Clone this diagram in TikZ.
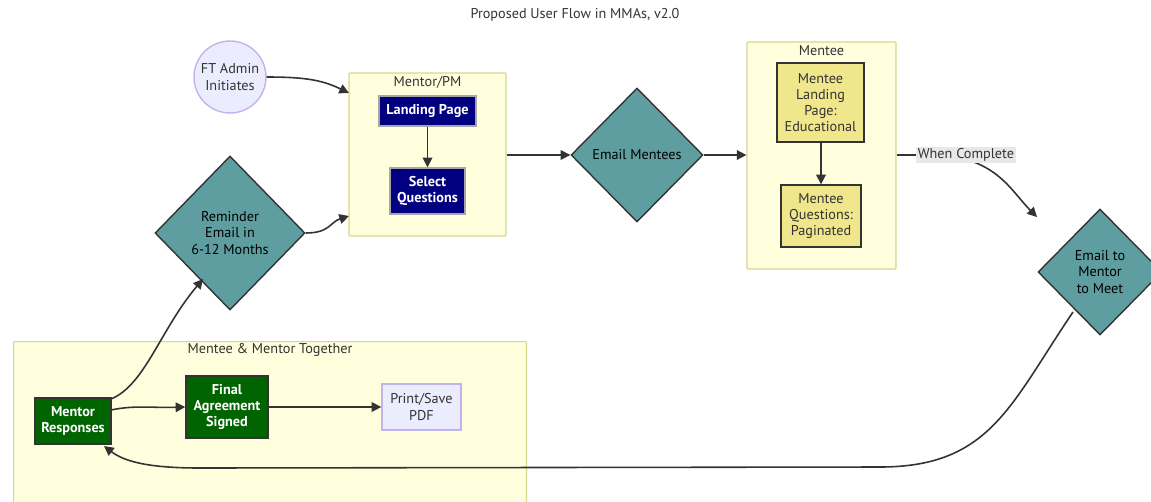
\documentclass[tikz,border=0pt]{standalone}
\usepackage{fontspec}
\setmainfont{PT Sans}
\usetikzlibrary{shapes.geometric,arrows.meta}
\definecolor{clfill}{HTML}{FFFFDE}
\definecolor{cldraw}{HTML}{D6D68C}
\definecolor{ink}{HTML}{333333}
\definecolor{navybox}{HTML}{000080}
\definecolor{khakibox}{HTML}{F0E68C}
\definecolor{greenbox}{HTML}{006400}
\definecolor{tealbox}{HTML}{5F9EA0}
\definecolor{lavfill}{HTML}{ECECFF}
\definecolor{lavdraw}{HTML}{C3B2EE}
\definecolor{lblfill}{HTML}{E8E8E8}
\newcommand{\diagfont}{\fontsize{8.1}{9.2}\selectfont}
\tikzset{
  txt/.style={font=\diagfont, text=ink, align=center},
  cluster/.style={draw=cldraw, fill=clfill, line width=0.7pt, rounded corners=0.5pt},
  ctitle/.style={txt},
  navynode/.style={txt, draw=gray!70, fill=navybox, text=white, font=\diagfont\bfseries, line width=0.8pt, inner sep=0pt},
  khakinode/.style={txt, draw=ink, fill=khakibox, line width=0.8pt, inner sep=0pt},
  greennode/.style={txt, draw=ink, fill=greenbox, text=white, font=\diagfont\bfseries, line width=0.8pt, inner sep=0pt},
  lavnode/.style={txt, draw=lavdraw, fill=lavfill, line width=0.8pt, inner sep=0pt},
  decision/.style={txt, diamond, draw=ink, fill=tealbox, text=black, line width=0.8pt, inner sep=0pt},
  arr/.style={draw=ink, line width=0.9pt, -{Triangle[length=5.5pt,width=5.5pt]}},
  link/.style={draw=ink, line width=0.9pt},
}
\begin{document}
\begin{tikzpicture}[x=0.02cm, y=-0.02cm]
\useasboundingbox (0,0) rectangle (1151,501);
\begin{scope}
\clip (0,0) rectangle (1151,501);

% title
\node[txt] (title) at (575,15) {Proposed User Flow in MMAs, v2.0};

% group frames
\node[cluster, minimum width=3.14cm, minimum height=3.26cm] (mpm) at (427.5,154.5) {};
\node[ctitle] (mpmt) at (427.5,82) {Mentor/PM};
\node[cluster, minimum width=2.98cm, minimum height=4.54cm] (mentee) at (821.5,155.5) {};
\node[ctitle] (menteet) at (821.5,51) {Mentee};
\node[cluster, minimum width=10.26cm, minimum height=3.6cm, anchor=north west] (tog) at (13,341) {};
\node[ctitle] (togt) at (270,350) {Mentee \& Mentor Together};

% nodes
\node[txt, circle, draw=lavdraw, fill=lavfill, line width=0.8pt, minimum size=1.44cm, inner sep=0pt] (ft) at (230,77) {FT Admin\\Initiates};
\node[navynode, minimum width=1.94cm, minimum height=0.6cm] (lp) at (427.5,111) {Landing Page};
\node[navynode, minimum width=1.5cm, minimum height=0.92cm] (sq) at (427.5,191) {Select\\Questions};
\node[decision, minimum width=3cm, minimum height=3.08cm] (rem) at (230,233) {Reminder\\Email in\\6-12 Months};
\node[decision, minimum width=2.64cm, minimum height=2.68cm] (em) at (637,155) {Email Mentees};
\node[khakinode, minimum width=1.74cm, minimum height=1.58cm] (mlp) at (820.5,102.5) {Mentee\\Landing\\Page:\\Educational};
\node[khakinode, minimum width=1.6cm, minimum height=1.24cm] (mq) at (821,216) {Mentee\\Questions:\\Paginated};
\node[decision, minimum width=2.48cm, minimum height=2.52cm] (emm) at (1100,272) {Email to\\Mentor\\to Meet};
\node[greennode, minimum width=1.52cm, minimum height=0.92cm] (mr) at (73,421) {Mentor\\Responses};
\node[greennode, minimum width=1.64cm, minimum height=1.24cm] (fas) at (227,407) {Final\\Agreement\\Signed};
\node[lavnode, minimum width=1.58cm, minimum height=0.92cm] (pdf) at (421.5,407) {Print/Save\\PDF};

% connector end points
\coordinate (mpmin1) at (349,93);
\coordinate (mpmin2) at (349,216);
\coordinate (wcbend) at (930,155);
\coordinate (emmin) at (1037,217);
\coordinate (emmout) at (1073,312);
\coordinate (mrin) at (104,446);
\coordinate (mrout) at (111,399);
\coordinate (mrout2) at (111,410);
\coordinate (remin) at (203,279);

% connectors
\draw[arr] (ft.east) .. controls (305,77) and (322,80) .. (mpmin1);
\draw[arr] (rem.east) .. controls (330,233) and (330,222) .. (mpmin2);
\draw[arr] (lp.south) -- (sq.north);
\draw[arr] (mlp.south -| mq.north) -- (mq.north);
\draw[arr] (mpm.east |- em.west) -- (em.west);
\draw[arr] (em.east) -- (mentee.west |- em.east);
\draw[link] (mentee.east |- em.east) -- (wcbend);
\draw[arr] (wcbend) .. controls (995,155) and (1010,190) .. (emmin);
\node[txt, fill=lblfill, inner sep=1pt] (wc) at (966,155) {When Complete};
\draw[arr] (emmout) .. controls (1010,405) and (990,467) .. (880,467)
  -- (200,468) .. controls (150,468) and (125,462) .. (mrin);
\draw[arr] (mrout) .. controls (145,385) and (160,330) .. (remin);
\draw[arr] (mrout2) .. controls (135,405) and (150,408) .. (fas.west);
\draw[arr] (fas.east) -- (pdf.west);
\end{scope}
\end{tikzpicture}
\end{document}
